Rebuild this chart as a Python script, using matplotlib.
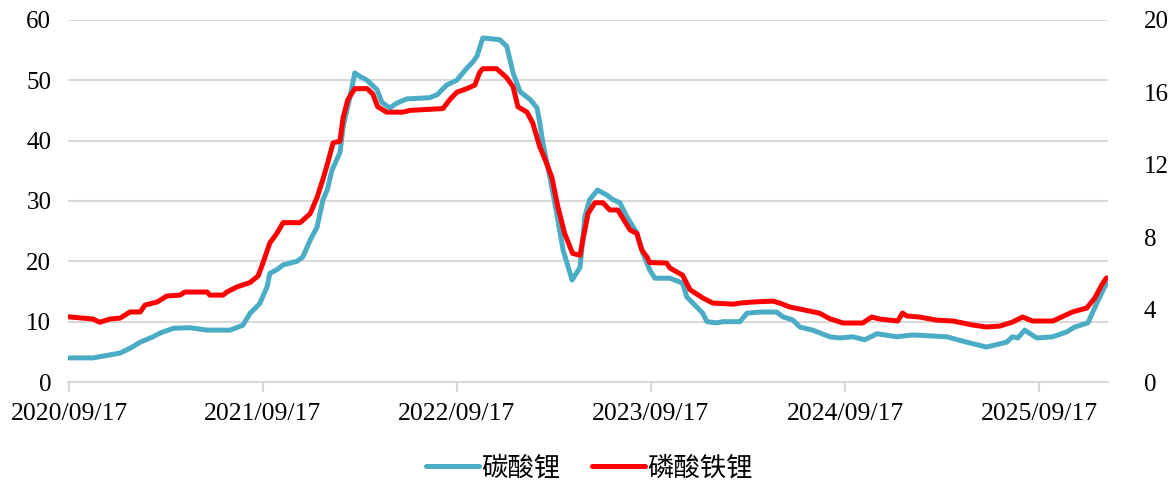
import matplotlib
matplotlib.use("Agg")
import matplotlib.pyplot as plt
import matplotlib.dates as mdates
import pandas as pd

plt.rcParams['font.family'] = ['Liberation Serif', 'Noto Sans CJK SC', 'DejaVu Sans']

# 碳酸锂 (left axis)
li2co3_dates = [
    "2020-09-17", "2020-11-01", "2020-12-22", "2021-01-10", "2021-01-29", "2021-02-22",
    "2021-03-07", "2021-04-01", "2021-05-03", "2021-06-04", "2021-07-17", "2021-08-10",
    "2021-08-24", "2021-09-11", "2021-09-25", "2021-09-30", "2021-10-13", "2021-10-25",
    "2021-11-20", "2021-12-01", "2021-12-15", "2021-12-28", "2022-01-08", "2022-01-16",
    "2022-01-25", "2022-02-09", "2022-02-15", "2022-02-28", "2022-03-09", "2022-03-19",
    "2022-04-01", "2022-04-20", "2022-04-29", "2022-05-14", "2022-05-27", "2022-06-15",
    "2022-07-28", "2022-08-11", "2022-08-29", "2022-09-17", "2022-10-06", "2022-10-17",
    "2022-10-25", "2022-11-05", "2022-12-07", "2022-12-20", "2022-12-26", "2023-01-01",
    "2023-01-14", "2023-02-02", "2023-02-15", "2023-02-20", "2023-02-26", "2023-03-11",
    "2023-03-24", "2023-04-05", "2023-04-22", "2023-05-07", "2023-05-16", "2023-05-25",
    "2023-06-09", "2023-06-26", "2023-07-08", "2023-07-21", "2023-08-03", "2023-08-22",
    "2023-09-02", "2023-09-15", "2023-09-25", "2023-10-23", "2023-11-16", "2023-11-24",
    "2023-12-13", "2023-12-24", "2024-01-01", "2024-01-19", "2024-01-31", "2024-03-03",
    "2024-03-16", "2024-04-09", "2024-05-11", "2024-05-23", "2024-06-10", "2024-06-24",
    "2024-07-18", "2024-08-19", "2024-09-07", "2024-10-01", "2024-10-24", "2024-11-16",
    "2024-12-23", "2025-01-22", "2025-03-27", "2025-05-04", "2025-06-10", "2025-07-18",
    "2025-07-29", "2025-08-08", "2025-08-21", "2025-09-13", "2025-10-13", "2025-11-08",
    "2025-11-23", "2025-12-18", "2026-01-04", "2026-01-22",
]
li2co3_values = [
    4.0, 4.0, 4.8, 5.6, 6.6, 7.5,
    8.1, 8.9, 9.0, 8.6, 8.6, 9.4,
    11.4, 13.0, 15.8, 18.0, 18.6, 19.4,
    20.0, 20.7, 23.5, 25.7, 30.2, 31.8,
    35.1, 38.0, 42.3, 47.3, 51.2, 50.6,
    50.0, 48.4, 46.3, 45.4, 46.2, 46.9,
    47.1, 47.6, 49.2, 50.0, 52.0, 53.0,
    54.0, 57.0, 56.7, 55.6, 53.4, 51.2,
    48.1, 46.8, 45.4, 43.0, 39.6, 34.0,
    28.0, 21.9, 16.9, 19.0, 27.4, 30.2,
    31.8, 31.0, 30.2, 29.7, 27.4, 24.7,
    21.4, 18.6, 17.2, 17.2, 16.4, 14.1,
    12.4, 11.4, 10.0, 9.8, 10.0, 10.0,
    11.4, 11.6, 11.6, 10.8, 10.3, 9.1,
    8.6, 7.5, 7.3, 7.5, 7.0, 8.0,
    7.5, 7.8, 7.5, 6.6, 5.8, 6.6,
    7.5, 7.3, 8.6, 7.3, 7.5, 8.3,
    9.1, 9.8, 13.1, 16.4,
]

# 磷酸铁锂 (right axis)
lfp_dates = [
    "2020-09-17", "2020-11-01", "2020-11-14", "2020-12-03", "2020-12-22", "2021-01-10",
    "2021-01-29", "2021-02-07", "2021-03-02", "2021-03-20", "2021-04-14", "2021-04-23",
    "2021-06-04", "2021-06-09", "2021-07-04", "2021-07-11", "2021-07-30", "2021-08-24",
    "2021-09-08", "2021-09-17", "2021-09-30", "2021-10-13", "2021-10-25", "2021-11-26",
    "2021-12-15", "2021-12-28", "2022-01-08", "2022-01-17", "2022-01-27", "2022-02-09",
    "2022-02-15", "2022-02-24", "2022-03-09", "2022-04-01", "2022-04-12", "2022-04-21",
    "2022-05-08", "2022-06-07", "2022-06-21", "2022-08-22", "2022-09-04", "2022-09-17",
    "2022-10-06", "2022-10-21", "2022-10-30", "2022-11-05", "2022-12-01", "2022-12-20",
    "2023-01-01", "2023-01-10", "2023-01-27", "2023-02-07", "2023-02-20", "2023-03-02",
    "2023-03-15", "2023-03-26", "2023-04-08", "2023-04-23", "2023-05-07", "2023-05-12",
    "2023-05-22", "2023-06-04", "2023-06-19", "2023-07-02", "2023-07-17", "2023-08-09",
    "2023-08-22", "2023-08-31", "2023-09-10", "2023-09-15", "2023-10-17", "2023-10-23",
    "2023-11-16", "2023-11-30", "2023-12-24", "2024-01-12", "2024-02-19", "2024-03-03",
    "2024-03-27", "2024-05-04", "2024-05-17", "2024-06-05", "2024-06-29", "2024-07-31",
    "2024-08-19", "2024-09-13", "2024-10-20", "2024-11-06", "2024-11-21", "2024-12-25",
    "2025-01-03", "2025-01-11", "2025-02-04", "2025-03-08", "2025-04-08", "2025-05-15",
    "2025-06-10", "2025-07-05", "2025-07-29", "2025-08-17", "2025-09-05", "2025-10-13",
    "2025-11-19", "2025-12-16", "2025-12-31", "2026-01-13", "2026-01-22",
]
lfp_values = [
    3.6, 3.48, 3.3, 3.48, 3.53, 3.87,
    3.87, 4.25, 4.42, 4.75, 4.8, 4.97,
    4.97, 4.8, 4.8, 4.97, 5.25, 5.5,
    5.86, 6.57, 7.68, 8.2, 8.8, 8.8,
    9.3, 10.2, 11.2, 12.1, 13.2, 13.3,
    14.6, 15.6, 16.2, 16.2, 15.9, 15.2,
    14.9, 14.9, 15.0, 15.1, 15.6, 16.0,
    16.2, 16.4, 17.1, 17.3, 17.3, 16.8,
    16.3, 15.2, 14.9, 14.3, 13.0, 12.3,
    11.3, 9.7, 8.2, 7.1, 7.0, 7.8,
    9.3, 9.9, 9.9, 9.5, 9.5, 8.4,
    8.2, 7.3, 6.9, 6.6, 6.57, 6.3,
    5.9, 5.1, 4.64, 4.36, 4.3, 4.36,
    4.42, 4.47, 4.36, 4.14, 4.0, 3.8,
    3.5, 3.26, 3.26, 3.59, 3.48, 3.37,
    3.81, 3.65, 3.59, 3.42, 3.37, 3.15,
    3.04, 3.09, 3.31, 3.59, 3.37, 3.37,
    3.87, 4.09, 4.64, 5.36, 5.75,
]

xtick_labels = ["2020/09/17", "2021/09/17", "2022/09/17", "2023/09/17", "2024/09/17", "2025/09/17"]
left_ticks = [0, 10, 20, 30, 40, 50, 60]
right_ticks = [0, 4, 8, 12, 16, 20]

blue = "#4bacc6"
red = "#ff0000"
grid_c = "#d9d9d9"

fig = plt.figure(figsize=(11.72, 4.83), dpi=100)
ax = fig.add_axes([0.058, 0.209, 0.887, 0.750])
ax2 = ax.twinx()

ld = pd.to_datetime(li2co3_dates)
rd = pd.to_datetime(lfp_dates)
l1, = ax.plot(ld, li2co3_values, color=blue, lw=3.6, solid_joinstyle='round', solid_capstyle='round', label="碳酸锂")
l2, = ax2.plot(rd, lfp_values, color=red, lw=3.6, solid_joinstyle='round', solid_capstyle='round', label="磷酸铁锂")

ax.set_ylim(0, 60)
ax2.set_ylim(0, 20)
ax.set_yticks(left_ticks)
ax2.set_yticks(right_ticks)
ax.set_xlim(pd.Timestamp("2020-09-15"), pd.Timestamp("2026-01-24"))
tick_pos = pd.to_datetime([s.replace("/", "-") for s in xtick_labels])
ax.set_xticks(tick_pos)
ax.set_xticklabels(xtick_labels)

ax.grid(axis='y', color=grid_c, lw=1.5)
ax.set_axisbelow(True)
for a in (ax, ax2):
    for s in ("top", "right", "left"):
        a.spines[s].set_visible(False)
    a.spines["bottom"].set_color(grid_c)
    a.spines["bottom"].set_linewidth(1.5)
ax.tick_params(axis='y', length=0, labelsize=18, pad=12, colors='black')
ax2.tick_params(axis='y', length=0, labelsize=18, pad=26)
ax.tick_params(axis='x', length=7, width=1.5, color=grid_c, labelsize=18.5, pad=8)

fig.legend(handles=[l1, l2], loc='center', bbox_to_anchor=(0.503, 0.032), ncol=2,
           frameon=False, prop={'family': ['Noto Sans CJK SC'], 'size': 19},
           handlelength=2.0, columnspacing=1.2, handletextpad=0.1)

fig.savefig("out.png", dpi=100)
